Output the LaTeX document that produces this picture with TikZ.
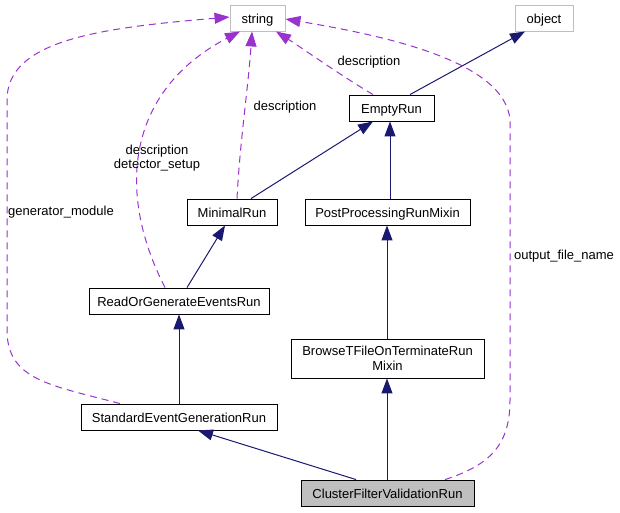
\documentclass[tikz,border=0pt]{standalone}
\usepackage{fontspec}
\setmainfont{Liberation Sans}
\usetikzlibrary{arrows.meta}
\definecolor{navy}{HTML}{191970}
\definecolor{orchid}{HTML}{9A32CD}
\definecolor{boxgray}{HTML}{BFBFBF}
\tikzset{
  cls/.style={draw=black, line width=0.9pt, fill=white, inner sep=0pt, minimum height=26pt, font=\fontsize{13}{14.5}\selectfont, align=center, text height=12pt, text depth=1pt},
  ext/.style={cls, draw=boxgray},
  inh/.style={draw=navy, line width=1pt, -{Triangle[length=15pt,width=11pt,fill=navy]}},
  use/.style={draw=orchid, line width=1pt, dash pattern=on 7pt off 5pt, -{Triangle[length=15pt,width=11pt,fill=orchid]}},
  lbl/.style={font=\fontsize{13}{14.5}\selectfont, inner sep=0pt, align=center}
}
\begin{document}
\begin{tikzpicture}[x=1pt,y=-1pt]
\useasboundingbox (0,0) rectangle (620,512);
\node[ext, minimum width=55pt] (string) at (257.5,18) {string};
\node[ext, minimum width=58pt] (object) at (544,18) {object};
\node[cls, minimum width=85pt] (empty) at (391.5,108) {EmptyRun};
\node[cls, minimum width=90pt] (minimal) at (232,212) {MinimalRun};
\node[cls, minimum width=165pt] (post) at (387.5,212) {PostProcessingRunMixin};
\node[cls, minimum width=180pt] (rog) at (179,301) {ReadOrGenerateEventsRun};
\node[cls, minimum width=193pt, minimum height=39pt, text height=, text depth=] (browse) at (387.5,358.5) {BrowseTFileOnTerminateRun\\Mixin};
\node[cls, minimum width=196pt] (seg) at (179,417) {StandardEventGenerationRun};
\node[cls, minimum width=173pt, fill=boxgray] (cfv) at (387.5,493) {ClusterFilterValidationRun};

% inheritance
\draw[inh] (empty.north -| 410,0) -- (object.south -| 525,0);
\draw[inh] (minimal.north -| 251,0) -- (empty.south -| 373,0);
\draw[inh] (post.north -| 390,0) -- (empty.south -| 390,0);
\draw[inh] (rog.north -| 187,0) -- (minimal.south -| 225,0);
\draw[inh] (seg.north) -- (rog.south);
\draw[inh] (browse.north -| 387,0) -- (post.south -| 387,0);
\draw[inh] (cfv.north -| 387,0) -- (browse.south -| 387,0);
\draw[inh] (cfv.north -| 356,0) -- (seg.south -| 198,0);

% usage
\draw[use] (empty.north -| 373,0) .. controls (340,75) and (305,50) .. (string.south -| 276,0);
\node[lbl] (l1) at (369,62) {description};
\draw[use] (minimal.north -| 237,0) .. controls (240,140) and (248,90) .. (string.south -| 252,0);
\node[lbl] (l2) at (285,107) {description};
\draw[use] (rog.north -| 165,0) .. controls (115,190) and (128,90) .. (string.south -| 240,0);
\node[lbl] (l3) at (157,158) {description\\detector\_setup};
\coordinate (g1) at (7,330);
\coordinate (g2) at (7,100);
\draw[use] (seg.north -| 120,0) .. controls (50,385) and (7,380) .. (g1) -- (g2) .. controls (7,40) and (100,28) .. (string.west |- 0,17);
\node[lbl] (l4) at (61,212) {generator\_module};
\coordinate (o1) at (510,400);
\coordinate (o2) at (510,120);
\draw[use] (cfv.north -| 445,0) .. controls (490,465) and (510,445) .. (o1) -- (o2) .. controls (505,60) and (380,35) .. (string.east |- 0,19);
\node[lbl] (l5) at (564,256) {output\_file\_name};
\end{tikzpicture}
\end{document}
